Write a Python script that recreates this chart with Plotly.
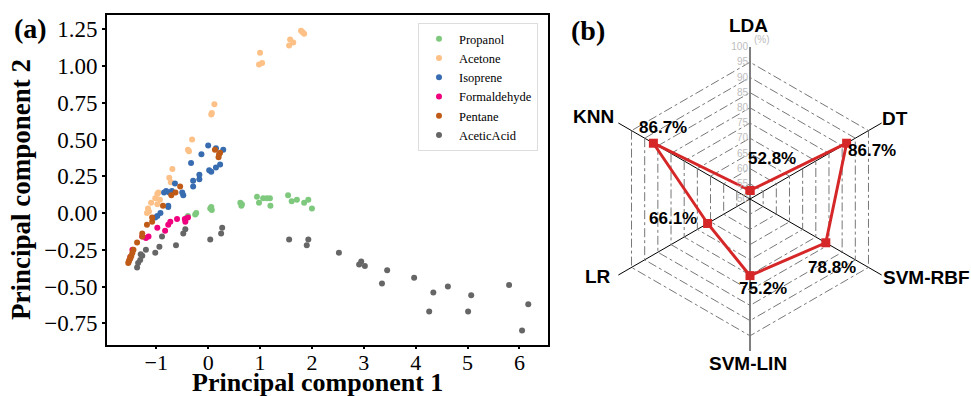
import plotly.graph_objects as go

# ---------------- data: PCA scatter (panel a) ----------------
propanol_x = [-0.41, -0.39, -0.25, -0.23, 0.04, 0.07, 0.06, 0.62, 0.65, 0.64, 0.94, 0.98, 1.06, 1.13, 1.19, 1.20, 1.54, 1.61, 1.71, 1.85, 1.93, 2.00]
propanol_y = [-0.03, -0.02, -0.01, 0.00, 0.03, 0.02, 0.04, 0.07, 0.06, 0.05, 0.11, 0.07, 0.10, 0.10, 0.10, 0.05, 0.12, 0.08, 0.09, 0.07, 0.09, 0.03]

acetone_x = [1.00, 0.98, 1.04, 1.56, 1.58, 1.64, 1.79, 1.85, 1.82, 0.12, 0.06, 0.07, -0.31, -0.39, -0.37, -0.69, -0.75, -0.72, -0.96, -0.98, -1.02, -0.93, -1.10, -0.98, -1.16, -1.18, -1.14]
acetone_y = [1.09, 1.01, 1.02, 1.14, 1.18, 1.16, 1.24, 1.22, 1.23, 0.74, 0.67, 0.68, 0.50, 0.43, 0.42, 0.30, 0.24, 0.21, 0.14, 0.13, 0.10, 0.09, 0.07, 0.06, 0.03, 0.00, 0.01]

isoprene_x = [0.00, 0.15, 0.29, -0.13, -0.33, 0.23, 0.02, 0.06, 0.15, -0.17, -0.17, -0.29, -0.29, -0.64, -0.85, -0.81, -0.50, -0.48, -0.77, -0.77, -0.92, -0.98, -1.02, -0.75, -0.70]
isoprene_y = [0.46, 0.44, 0.43, 0.40, 0.34, 0.33, 0.29, 0.28, 0.31, 0.26, 0.23, 0.22, 0.18, 0.20, 0.14, 0.15, 0.14, 0.12, 0.05, 0.04, 0.00, -0.02, -0.03, 0.14, 0.15]

formaldehyde_x = [-0.39, -0.44, -0.45, -0.60, -0.73, -0.77, -0.83, -0.98, -1.15, -1.20, -1.27, -1.46, -1.50]
formaldehyde_y = [-0.03, -0.06, -0.04, -0.04, -0.06, -0.08, -0.12, -0.10, -0.16, -0.17, -0.16, -0.25, -0.30]

pentane_x = [0.13, 0.23, 0.20, 0.21, -0.54, -0.63, -0.71, -0.87, -1.08, -1.08, -1.18, -1.27, -1.27, -1.37, -1.44, -1.46, -1.50, -1.52, -1.54, -1.48, -1.50, -1.53]
pentane_y = [0.43, 0.41, 0.38, 0.40, 0.18, 0.14, 0.12, 0.05, -0.03, -0.06, -0.08, -0.14, -0.16, -0.20, -0.25, -0.27, -0.30, -0.32, -0.34, -0.29, -0.31, -0.33]

acetic_x = [0.27, 0.25, 0.04, -0.44, -0.48, -0.62, -0.89, -0.94, -1.02, -1.20, -1.27, -1.31, -1.35, -1.37, -1.30, 1.56, 1.93, 1.90, 2.52, 2.95, 2.91, 3.02, 3.45, 3.35, 3.97, 4.34, 4.26, 4.62, 5.07, 5.01, 5.80, 6.17, 6.05]
acetic_y = [-0.10, -0.14, -0.18, -0.11, -0.14, -0.22, -0.16, -0.23, -0.27, -0.25, -0.29, -0.32, -0.34, -0.37, -0.28, -0.18, -0.18, -0.22, -0.27, -0.33, -0.35, -0.36, -0.39, -0.48, -0.44, -0.54, -0.67, -0.50, -0.56, -0.67, -0.49, -0.62, -0.80]

series_names = ["Propanol", "Acetone", "Isoprene", "Formaldehyde", "Pentane", "AceticAcid"]
series_x = [propanol_x, acetone_x, isoprene_x, formaldehyde_x, pentane_x, acetic_x]
series_y = [propanol_y, acetone_y, isoprene_y, formaldehyde_y, pentane_y, acetic_y]
series_colors = ["#7fc97f", "#fdc086", "#386cb0", "#f0027f", "#bf5b17", "#666666"]

x_ticks = [-1, 0, 1, 2, 3, 4, 5, 6]
y_ticks = [-0.75, -0.50, -0.25, 0.00, 0.25, 0.50, 0.75, 1.00, 1.25]

# ---------------- data: radar (panel b) ----------------
models = ["LDA", "DT", "SVM-RBF", "SVM-LIN", "LR", "KNN"]
accuracy = [52.8, 86.7, 78.8, 75.2, 66.1, 86.7]
radial_ticks = [50, 55, 60, 65, 70, 75, 80, 85, 90, 95, 100]

SERIF = "Liberation Serif, Times New Roman, serif"
SANS = "Liberation Sans, Arial, sans-serif"
W, H = 971, 396

fig = go.Figure()

for name, xs, ys, c in zip(series_names, series_x, series_y, series_colors):
    fig.add_trace(go.Scatter(
        x=xs, y=ys, mode="markers", name=name,
        marker=dict(color=c, size=6, line=dict(width=0)),
        xaxis="x", yaxis="y",
    ))

fig.add_trace(go.Scatterpolar(
    r=accuracy + accuracy[:1], theta=models + models[:1],
    mode="lines+markers", showlegend=False,
    line=dict(color="#d62728", width=3),
    marker=dict(symbol="square", size=9, color="#d62728"),
    subplot="polar",
))

fig.update_layout(
    width=W, height=H,
    margin=dict(l=0, r=0, t=0, b=0),
    paper_bgcolor="white", plot_bgcolor="white",
    xaxis=dict(
        domain=[107 / W, 548 / W], range=[-1.95, 6.55],
        tickvals=x_ticks, ticktext=["\u22121" if v < 0 else str(v) for v in x_ticks],
        showgrid=False, zeroline=False,
        showline=True, linecolor="black", linewidth=2, mirror=True,
        ticks="outside", ticklen=2, tickwidth=1.5, tickcolor="black",
        ticklabelstandoff=-5,
        tickfont=dict(family=SERIF, size=22, color="black"),
    ),
    yaxis=dict(
        domain=[1 - 345 / H, 1 - 15 / H], range=[-0.898, 1.347],
        tickvals=y_ticks, ticktext=[f"{v:.2f}".replace("-", "\u2212") for v in y_ticks],
        showgrid=False, zeroline=False,
        showline=True, linecolor="black", linewidth=2, mirror=True,
        ticks="outside", ticklen=3, tickwidth=1.5, tickcolor="black",
        tickfont=dict(family=SERIF, size=23, color="black"),
    ),
    legend=dict(
        x=418 / W, y=1 - 23 / H, xanchor="left", yanchor="top",
        bgcolor="white", bordercolor="#dddddd", borderwidth=1,
        font=dict(family=SERIF, size=12.5, color="black"),
        itemwidth=30, tracegroupgap=0,
    ),
    polar=dict(
        domain=dict(x=[598 / W, 902 / W], y=[1 - 351 / H, 1 - 47 / H]),
        bgcolor="white",
        gridshape="linear",
        radialaxis=dict(
            range=[50, 100], tickvals=radial_ticks, angle=90, tickangle=90,
            side="counterclockwise",
            showline=False, ticks="",
            gridcolor="#777777", gridwidth=1, griddash="dashdot",
            tickfont=dict(family=SANS, size=10, color="#bdbdbd"),
        ),
        angularaxis=dict(
            rotation=90, direction="clockwise",
            showline=False, ticks="", showticklabels=False,
            gridcolor="black", gridwidth=1,
        ),
    ),
)

annotations = [
    dict(text="<b>(a)</b>", x=30 / W, y=1 - 28 / H, font=dict(family=SERIF, size=28, color="black")),
    dict(text="<b>(b)</b>", x=588 / W, y=1 - 30 / H, font=dict(family=SERIF, size=28, color="black")),
    dict(text="(%)", x=762 / W, y=1 - 40 / H, font=dict(family=SANS, size=10, color="#bdbdbd")),
    dict(text="<b>Principal component 1</b>", x=317 / W, y=1 - 382 / H,
         font=dict(family=SERIF, size=26, color="black")),
    dict(text="<b>Principal component 2</b>", x=21 / W, y=1 - 190 / H, textangle=-90,
         font=dict(family=SERIF, size=27, color="black")),
]
# category labels of the radar axes
model_label_pos = [(748, 25), (895, 118), (926, 277), (748, 363), (598, 276), (593, 117)]
for m, (px, py) in zip(models, model_label_pos):
    annotations.append(dict(text=f"<b>{m}</b>", x=px / W, y=1 - py / H,
                            font=dict(family=SANS, size=19, color="black")))
# value labels
label_pos = [(772, 158), (872, 150), (832, 267), (763, 288), (673, 218), (663, 127)]
for val, (px, py) in zip(accuracy, label_pos):
    annotations.append(dict(text=f"<b>{val:.1f}%</b>", x=px / W, y=1 - py / H,
                            font=dict(family=SANS, size=17, color="black")))
for a in annotations:
    a.update(xref="paper", yref="paper", showarrow=False, xanchor="center", yanchor="middle")
fig.update_layout(annotations=annotations)

fig.write_html("out.html")
